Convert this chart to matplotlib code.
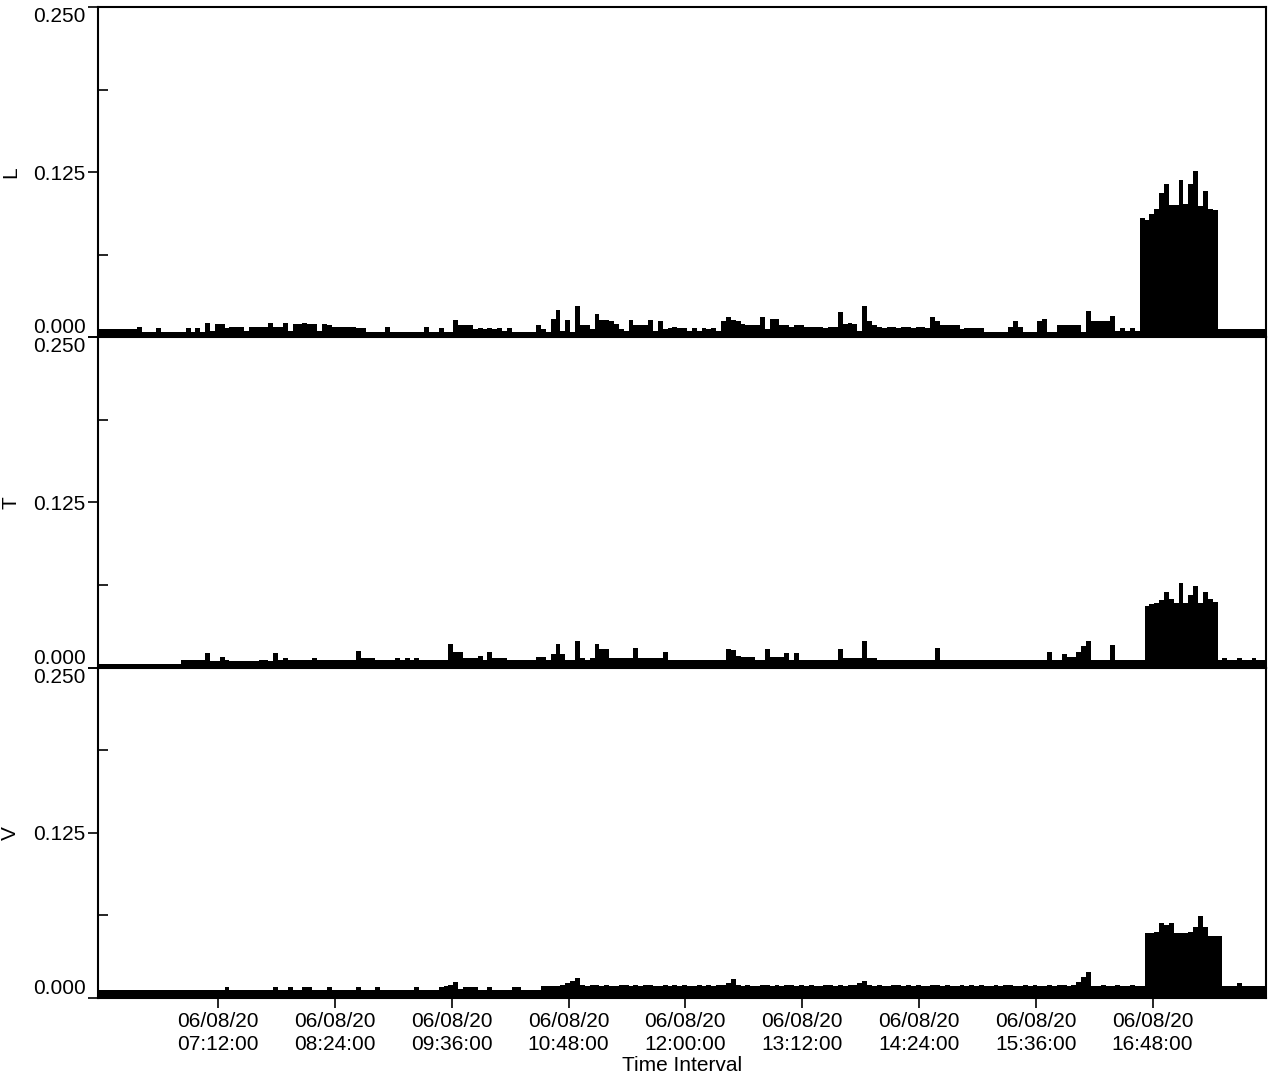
import pandas as pd
import matplotlib
matplotlib.use('Agg')
import matplotlib.pyplot as plt
import matplotlib.dates as mdates
from matplotlib.ticker import FixedLocator

plt.rcParams['font.family'] = ['Liberation Sans', 'DejaVu Sans']

# 3 minute bins starting 06/08/20 05:58, one row = one hour
start_time = '2020-06-08 05:58'
bin_freq = '3min'

l_vals = [
    .006, .006, .006, .006, .006, .006, .006, .006, .008, .004, .004, .004, .007, .004, .004, .004, .004, .004, .007, .004,
    .007, .004, .011, .005, .010, .010, .007, .008, .008, .008, .005, .008, .008, .008, .008, .011, .008, .008, .011, .005,
    .010, .010, .011, .010, .010, .005, .010, .009, .008, .008, .008, .008, .008, .007, .007, .004, .004, .004, .004, .008,
    .004, .004, .004, .004, .004, .004, .004, .008, .004, .004, .007, .004, .004, .013, .009, .009, .009, .006, .007, .006,
    .007, .006, .007, .005, .007, .004, .004, .004, .004, .004, .009, .006, .004, .014, .021, .005, .013, .004, .024, .009,
    .009, .006, .018, .013, .013, .012, .010, .006, .005, .013, .009, .009, .009, .013, .005, .012, .006, .007, .008, .007,
    .007, .005, .007, .005, .007, .006, .007, .005, .012, .015, .013, .012, .010, .009, .009, .009, .015, .006, .014, .014,
    .009, .009, .008, .009, .009, .008, .008, .008, .008, .007, .008, .008, .019, .010, .011, .010, .005, .024, .012, .009,
    .008, .007, .008, .008, .007, .008, .008, .007, .008, .008, .007, .015, .012, .009, .009, .009, .009, .006, .007, .007,
    .007, .007, .004, .004, .004, .004, .004, .008, .012, .008, .004, .004, .004, .012, .014, .004, .004, .009, .009, .009,
    .009, .009, .004, .020, .012, .012, .012, .012, .016, .005, .007, .005, .007, .005, .090, .089, .093, .097, .109, .116,
    .100, .100, .119, .101, .116, .126, .099, .111, .097, .096, .006, .006, .006, .006, .006, .006, .006, .006, .006, .006,
]

t_vals = [
    .003, .003, .003, .003, .003, .003, .003, .003, .003, .003, .003, .003, .003, .003, .003, .003, .003, .006, .006, .006,
    .006, .006, .011, .005, .005, .008, .006, .005, .005, .005, .005, .005, .005, .006, .006, .005, .011, .006, .007, .006,
    .006, .0055, .0055, .0055, .007, .0055, .0055, .0055, .006, .0055, .0055, .006, .0055, .0125, .007, .007, .007, .0055, .0055, .006,
    .006, .007, .006, .007, .006, .007, .006, .006, .006, .006, .006, .006, .018, .012, .012, .007, .007, .007, .009, .006,
    .012, .007, .007, .007, .006, .0055, .0055, .0055, .0055, .0055, .008, .008, .0055, .010, .018, .010, .006, .0055, .020, .007,
    .006, .007, .018, .014, .014, .007, .007, .007, .007, .007, .015, .007, .007, .007, .007, .007, .012, .0055, .0055, .0055,
    .0055, .0055, .0055, .0055, .006, .006, .006, .006, .006, .014, .013, .009, .008, .008, .008, .006, .006, .014, .008, .008,
    .008, .011, .006, .011, .0055, .0055, .0055, .0055, .0055, .0055, .0055, .0055, .014, .007, .007, .007, .007, .020, .007, .007,
    .006, .006, .006, .006, .006, .006, .006, .006, .006, .006, .006, .006, .015, .0055, .0055, .0055, .0055, .0055, .0055, .0055,
    .0055, .0055, .0055, .0055, .0055, .0055, .0055, .0055, .0055, .0055, .0055, .0055, .0055, .0055, .0055, .012, .0055, .0055, .010, .008,
    .008, .012, .016, .020, .0055, .0055, .0055, .0055, .017, .0055, .0055, .0055, .0055, .0055, .0055, .047, .048, .049, .051, .057,
    .052, .049, .064, .049, .055, .062, .049, .057, .052, .050, .0055, .007, .0055, .0055, .007, .0055, .0055, .007, .0055, .0055,
]

v_vals = [
    .006, .006, .006, .006, .006, .006, .006, .006, .006, .006, .006, .006, .006, .006, .006, .006, .006, .006, .006, .006,
    .006, .006, .006, .006, .006, .006, .008, .006, .006, .006, .006, .006, .006, .006, .006, .006, .008, .006, .006, .008,
    .006, .006, .008, .008, .006, .006, .006, .008, .006, .006, .006, .006, .006, .008, .006, .006, .006, .008, .006, .006,
    .006, .006, .006, .006, .006, .008, .006, .006, .006, .006, .008, .009, .010, .012, .007, .008, .008, .008, .006, .006,
    .008, .006, .006, .006, .006, .008, .008, .006, .006, .006, .006, .009, .009, .009, .009, .010, .011, .013, .015, .010,
    .009, .010, .010, .009, .010, .009, .009, .010, .010, .009, .010, .009, .010, .010, .009, .009, .010, .009, .010, .009,
    .010, .009, .009, .010, .009, .010, .009, .010, .010, .011, .014, .010, .009, .010, .009, .009, .010, .010, .009, .010,
    .009, .010, .010, .009, .010, .009, .010, .009, .009, .010, .010, .009, .010, .009, .010, .010, .011, .013, .010, .009,
    .010, .009, .009, .010, .010, .009, .010, .009, .010, .009, .009, .010, .010, .009, .010, .009, .009, .010, .009, .010,
    .009, .010, .009, .009, .010, .009, .010, .010, .009, .009, .010, .009, .010, .009, .009, .010, .009, .010, .010, .009,
    .010, .012, .016, .020, .009, .009, .010, .009, .009, .010, .009, .009, .010, .009, .009, .049, .049, .050, .057, .055,
    .057, .049, .049, .049, .050, .054, .062, .054, .047, .047, .047, .009, .009, .009, .011, .009, .009, .009, .009, .009,
]

panel_names = ['L', 'T', 'V']
y_ticks = [0.0, 0.125, 0.25]
y_tick_labels = ['0.000', '0.125', '0.250']
x_tick_times = pd.date_range('2020-06-08 07:12', periods=9, freq='72min')

edges = mdates.date2num(pd.date_range(start_time, periods=len(l_vals) + 1, freq=bin_freq))

fig, axes = plt.subplots(3, 1, figsize=(12.7, 10.74), dpi=100, sharex=True)
fig.subplots_adjust(left=0.0772, right=0.997, top=0.9935, bottom=0.0708, hspace=0)

for ax, vals, name in zip(axes, [l_vals, t_vals, v_vals], panel_names):
    ax.stairs(vals, edges, fill=True, color='black', linewidth=0)
    ax.set_ylim(0, 0.25)
    ax.set_yticks(y_ticks)
    ax.set_yticklabels(y_tick_labels)
    ax.set_yticks([0.0625, 0.1875], minor=True)
    ax.tick_params(axis='y', which='major', direction='out', length=7, width=1.2, labelsize=15, pad=2)
    ax.tick_params(axis='y', which='minor', direction='in', length=7, width=1.2)
    labs = ax.get_yticklabels()
    labs[0].set_verticalalignment('bottom')
    labs[2].set_verticalalignment('top')
    ax.set_ylabel(name, fontsize=15, labelpad=9)
    for sp in ax.spines.values():
        sp.set_linewidth(1.5)
    ax.tick_params(axis='x', which='both', length=0)

ax = axes[-1]
ax.set_xlim(edges[0], edges[-1])
ax.xaxis.set_major_locator(FixedLocator(mdates.date2num(x_tick_times)))
ax.xaxis.set_major_formatter(mdates.DateFormatter('%m/%d/%y\n%H:%M:%S'))
ax.tick_params(axis='x', which='major', direction='out', length=7, width=1.2, labelsize=15, pad=3)
for lab in ax.get_xticklabels():
    lab.set_linespacing(1.3)
ax.set_xlabel('Time Interval', fontsize=15, labelpad=1)

fig.savefig('out.png', dpi=100)
